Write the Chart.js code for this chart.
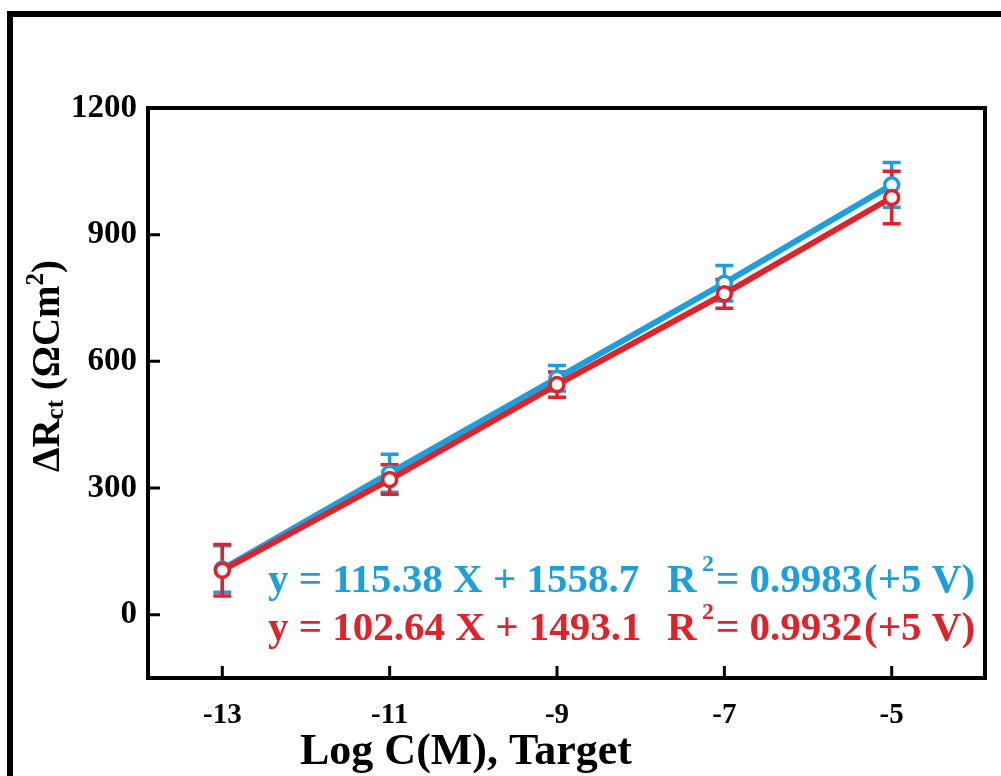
<!DOCTYPE html>
<html lang="en">
<head>
  <meta charset="UTF-8" />
  <title>Delta Rct vs Log C</title>
  <style>
    html, body { margin: 0; padding: 0; background: #fff; }
    canvas { display: block; }
  </style>
  <script src="https://cdn.jsdelivr.net/npm/chart.js"></script>
</head>
<body>
  <canvas id="rctChart" width="1001" height="776"></canvas>

  <script>
    // data
    const logConc = [-13, -11, -9, -7, -5];
    const blueRct = [108, 335, 560, 785, 1018];
    const blueErr = [55, 45, 30, 42, 53];
    const redRct = [105, 320, 545, 760, 988];
    const redErr = [61, 35, 30, 34, 62];
    const xTicks = [-13, -11, -9, -7, -5];
    const yTicks = [0, 300, 600, 900, 1200];
    const blueEq = ["y = 115.38 X + 1558.7", "= 0.9983", "(+5 V)"];
    const redEq = ["y = 102.64 X + 1493.1", "= 0.9932", "(+5 V)"];

    const BLUE = "#1ca0dd";
    const RED = "#e0232b";
    const SERIF = "'Liberation Serif', 'Times New Roman', serif";

    function font(size) {
      return "bold " + size + "px " + SERIF;
    }

    // error bars are drawn under the circles
    const errorBars = {
      id: "errorBars",
      beforeDatasetsDraw(chart) {
        const ctx = chart.ctx;
        const y = chart.scales.y;
        // blue first, red on top
        for (let d = chart.data.datasets.length - 1; d >= 0; d--) {
          const ds = chart.data.datasets[d];
          const meta = chart.getDatasetMeta(d);
          ctx.save();
          ctx.strokeStyle = ds.borderColor;
          ctx.lineWidth = 3.5;
          meta.data.forEach((pt, i) => {
            const top = y.getPixelForValue(ds.data[i].y + ds.err[i]);
            const bot = y.getPixelForValue(ds.data[i].y - ds.err[i]);
            ctx.beginPath();
            ctx.moveTo(pt.x, top); ctx.lineTo(pt.x, bot);
            ctx.moveTo(pt.x - 9, top); ctx.lineTo(pt.x + 9, top);
            ctx.moveTo(pt.x - 9, bot); ctx.lineTo(pt.x + 9, bot);
            ctx.stroke();
          });
          ctx.restore();
        }
      }
    };

    // frame, inward ticks, titles and the fit equations
    const decorations = {
      id: "decorations",
      afterDraw(chart) {
        const ctx = chart.ctx;
        const a = chart.chartArea;
        const xs = chart.scales.x, ys = chart.scales.y;
        ctx.save();

        // outer frame (left + top only)
        ctx.fillStyle = "#000";
        ctx.fillRect(7, 11, 6, 765);
        ctx.fillRect(7, 11, 994, 6);

        // plot box
        ctx.strokeStyle = "#000";
        ctx.lineWidth = 4;
        ctx.strokeRect(a.left, a.top, a.right - a.left, a.bottom - a.top);

        // inward ticks
        ctx.lineWidth = 3;
        ctx.beginPath();
        xTicks.forEach(v => {
          const px = xs.getPixelForValue(v);
          ctx.moveTo(px, a.bottom); ctx.lineTo(px, a.bottom - 12);
        });
        yTicks.forEach(v => {
          const py = ys.getPixelForValue(v);
          ctx.moveTo(a.left, py); ctx.lineTo(a.left + 12, py);
        });
        ctx.stroke();

        // x title
        ctx.fillStyle = "#000";
        ctx.textAlign = "center";
        ctx.textBaseline = "alphabetic";
        ctx.font = font(44);
        ctx.fillText("Log C(M), Target", 466, 764, 365);

        // y title, rotated
        ctx.save();
        ctx.translate(59, 366);
        ctx.rotate(-Math.PI / 2);
        const parts = [
          { t: "\u0394R", s: 39, dy: 0 },
          { t: "ct", s: 25, dy: 4 },
          { t: " (\u03A9Cm", s: 39, dy: 0 },
          { t: "2", s: 25, dy: -16 },
          { t: ")", s: 39, dy: 0 }
        ];
        let total = 0;
        parts.forEach(p => { ctx.font = font(p.s); p.w = ctx.measureText(p.t).width; total += p.w; });
        let cx = -total / 2;
        ctx.textAlign = "left";
        parts.forEach(p => {
          ctx.font = font(p.s);
          ctx.fillText(p.t, cx, p.dy);
          cx += p.w;
        });
        ctx.restore();

        // equations
        function eq(lines, color, base) {
          ctx.fillStyle = color;
          ctx.textAlign = "left";
          ctx.font = font(41);
          ctx.fillText(lines[0], 268, base, 374);
          ctx.fillText("R", 667, base, 32);
          ctx.font = font(24);
          ctx.fillText("2", 702, base - 21);
          ctx.font = font(41);
          ctx.fillText(lines[1], 716, base, 150);
          ctx.fillText(lines[2], 864, base, 116);
        }
        eq(blueEq, BLUE, 592);
        eq(redEq, RED, 640);

        ctx.restore();
      }
    };

    function points(values) {
      return logConc.map((x, i) => ({ x: x, y: values[i] }));
    }

    new Chart(document.getElementById("rctChart").getContext("2d"), {
      type: "line",
      data: {
        datasets: [
          {
            label: "red",
            data: points(redRct),
            err: redErr,
            borderColor: RED,
            backgroundColor: "#fff",
            borderWidth: 6,
            pointRadius: 7,
            pointBorderWidth: 3.5,
            pointBackgroundColor: "#fff",
            pointBorderColor: RED
          },
          {
            label: "blue",
            data: points(blueRct),
            err: blueErr,
            borderColor: BLUE,
            backgroundColor: "#fff",
            borderWidth: 6,
            pointRadius: 7,
            pointBorderWidth: 3.5,
            pointBackgroundColor: "#fff",
            pointBorderColor: BLUE
          }
        ]
      },
      options: {
        responsive: false,
        animation: false,
        devicePixelRatio: 1,
        layout: { padding: { top: 108, right: 16, left: 0, bottom: 0 } },
        plugins: { legend: { display: false }, tooltip: { enabled: false } },
        scales: {
          x: {
            type: "linear",
            min: -13.888,
            max: -3.885,
            afterBuildTicks: s => { s.ticks = xTicks.map(v => ({ value: v })); },
            afterFit: s => { s.height = 98; },
            grid: { display: false, drawTicks: false },
            border: { display: false },
            ticks: {
              font: { family: SERIF, weight: "bold", size: 29 },
              color: "#000",
              padding: 20,
              maxRotation: 0,
              callback: v => String(v)
            }
          },
          y: {
            min: -150,
            max: 1200,
            afterBuildTicks: s => { s.ticks = yTicks.map(v => ({ value: v })); },
            afterFit: s => { s.width = 148; },
            grid: { display: false, drawTicks: false },
            border: { display: false },
            ticks: {
              font: { family: SERIF, weight: "bold", size: 33 },
              color: "#000",
              padding: 11,
              callback: v => String(v)
            }
          }
        }
      },
      plugins: [errorBars, decorations]
    });
  </script>
</body>
</html>
